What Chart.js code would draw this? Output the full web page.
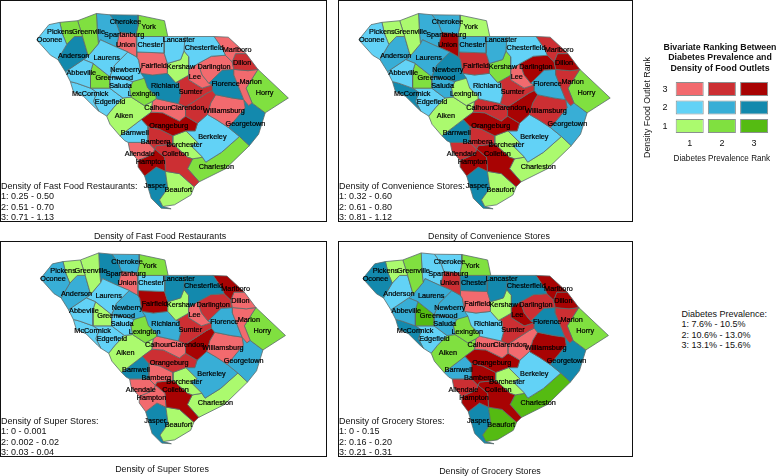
<!DOCTYPE html>
<html>
<head>
<meta charset="utf-8">
<script src="https://cdn.jsdelivr.net/npm/chart.js@4"></script>
<style>
  html, body { margin: 0; padding: 0; background: #fff; }
  body { position: relative; width: 779px; height: 476px; overflow: hidden; font-family: "Liberation Sans", Arial, sans-serif; color: #111; }
  .panel { position: absolute; box-sizing: border-box; border: 1.5px solid #111; }
  .panel canvas { position: absolute; left: 0; top: 0; }
  .ranges { position: absolute; font-size: 9px; line-height: 10.4px; white-space: nowrap; }
  .caption { position: absolute; font-size: 8.9px; line-height: 10px; white-space: nowrap; transform: translateX(-50%); }
  .side { position: absolute; left: 681.5px; top: 308.8px; font-size: 9px; line-height: 10.4px; white-space: nowrap; }
  .legendTitle { position: absolute; left: 720px; top: 41.5px; transform: translateX(-50%); font-size: 8.8px; line-height: 10.6px; font-weight: bold; text-align: center; white-space: nowrap; }
  #legendChart { position: absolute; left: 636px; top: 55px; }
</style>
</head>
<body>
<canvas id="legendChart" width="143" height="115"></canvas>
<div class="legendTitle">Bivariate Ranking Between<br>Diabetes Prevalence and<br>Density of Food Outlets</div>
<div class="side">Diabetes Prevalence:<br>1: 7.6% - 10.5%<br>2: 10.6% - 13.0%<br>3: 13.1% - 15.6%</div>
<script>
// county order is shared by every array below
const countyNames = ["Oconee","Pickens","Greenville","Anderson","Abbeville","Laurens","Spartanburg","Cherokee","York","Union","Chester","Lancaster","Chesterfield","Marlboro","Dillon","Marion","Horry","Darlington","Florence","Lee","Kershaw","Fairfield","Newberry","Greenwood","Saluda","McCormick","Edgefield","Lexington","Richland","Sumter","Clarendon","Williamsburg","Georgetown","Calhoun","Orangeburg","Aiken","Barnwell","Bamberg","Allendale","Hampton","Colleton","Dorchester","Berkeley","Charleston","Beaufort","Jasper"];

// outlines, map units
const countyOutlines = [
  [[108,118],[145,72],[178,65],[186,100],[199,132],[172,178],[150,165]],
  [[178,65],[232,60],[247,108],[222,108],[199,132],[186,100]],
  [[232,60],[289,38],[292,100],[295,130],[264,167],[247,108]],
  [[199,132],[222,108],[247,108],[264,167],[250,178],[195,215],[172,178]],
  [[195,215],[250,178],[279,190],[271,215],[271,265],[229,250],[210,245]],
  [[295,130],[301,118],[349,140],[384,155],[344,195],[329,230],[279,190],[250,178],[264,167]],
  [[289,38],[330,42],[350,70],[359,95],[349,140],[301,118],[295,130],[292,100]],
  [[330,42],[415,43],[415,75],[409,100],[359,95],[350,70]],
  [[415,43],[495,60],[505,108],[495,108],[409,108],[409,100],[415,75]],
  [[359,95],[409,100],[411,155],[411,170],[384,155],[349,140]],
  [[409,108],[495,108],[494,158],[411,155]],
  [[505,108],[557,108],[554,152],[544,178],[504,190],[494,158],[495,108]],
  [[557,108],[645,108],[672,148],[679,165],[637,168],[597,190],[569,208],[569,170],[554,152]],
  [[645,108],[688,110],[742,160],[710,160],[700,185],[679,165],[672,148]],
  [[710,160],[742,160],[778,208],[748,212],[705,208],[700,185]],
  [[705,208],[748,212],[778,208],[742,265],[760,310],[750,318],[735,300],[705,225]],
  [[778,208],[870,295],[800,340],[760,310],[742,265]],
  [[597,190],[637,168],[679,165],[700,185],[705,208],[670,210],[639,240],[629,250],[609,225]],
  [[640,255],[629,250],[639,240],[670,210],[705,208],[705,225],[735,300],[700,295],[650,285],[640,272]],
  [[569,208],[597,190],[609,225],[629,250],[640,255],[609,265],[569,240]],
  [[504,190],[544,178],[554,152],[569,170],[569,208],[569,225],[529,248],[504,220]],
  [[411,155],[494,158],[504,190],[504,220],[459,225],[424,220],[417,180],[411,170]],
  [[344,195],[384,155],[411,170],[417,180],[424,220],[434,235],[399,245],[384,240],[329,230]],
  [[279,190],[329,230],[329,265],[271,265],[271,215]],
  [[329,230],[384,240],[399,245],[389,265],[394,292],[369,295],[329,265]],
  [[219,275],[210,245],[229,250],[271,265],[290,278],[280,305],[296,335],[285,325],[250,290]],
  [[271,265],[329,265],[369,295],[340,325],[320,350],[296,335],[280,305],[290,278]],
  [[420,232],[434,235],[444,265],[469,290],[470,297],[459,305],[434,318],[394,292],[389,265],[399,245]],
  [[424,220],[459,225],[504,220],[529,248],[539,250],[544,285],[537,312],[470,297],[469,290],[444,265],[420,232]],
  [[529,248],[569,225],[569,240],[609,265],[640,255],[640,272],[624,280],[559,322],[537,312],[544,285],[539,250]],
  [[559,322],[624,280],[640,272],[650,285],[635,310],[625,345],[595,372],[559,350]],
  [[650,285],[700,295],[735,300],[739,325],[689,385],[654,362],[625,345],[635,310]],
  [[735,300],[750,318],[760,310],[800,340],[780,405],[752,440],[722,412],[689,385],[739,325]],
  [[470,297],[537,312],[559,322],[559,350],[540,365],[490,340],[455,338],[459,305]],
  [[425,360],[455,338],[490,340],[540,365],[559,350],[595,372],[588,395],[560,395],[520,410],[480,390],[445,382]],
  [[394,292],[434,318],[459,305],[455,338],[425,360],[360,410],[330,375],[320,350],[340,325],[369,295]],
  [[360,410],[425,360],[445,382],[445,430],[385,430],[375,425]],
  [[445,382],[480,390],[520,410],[520,435],[470,440],[465,450],[445,430]],
  [[385,430],[445,430],[465,450],[460,465],[415,485],[390,455]],
  [[415,485],[460,465],[465,450],[495,475],[498,518],[470,505],[435,532],[415,505]],
  [[470,440],[520,435],[565,475],[580,480],[565,510],[600,550],[585,565],[540,525],[498,518],[495,475],[465,450]],
  [[520,410],[560,395],[595,430],[575,440],[610,475],[580,480],[565,475],[520,435]],
  [[560,395],[588,395],[595,372],[625,345],[654,362],[689,385],[722,412],[668,460],[620,490],[610,475],[575,440],[595,430]],
  [[722,412],[752,440],[680,510],[600,550],[565,510],[580,480],[610,475],[620,490],[668,460]],
  [[498,518],[540,525],[585,565],[575,590],[525,620],[490,625],[480,605],[505,570]],
  [[435,532],[470,505],[498,518],[505,570],[480,605],[490,625],[515,632],[485,630],[455,600]]
];

const labelAnchors = [[147,118],[178,94],[265,93],[220,166],[243,220],[320,172],[373,104],[377,65],[447,79],[377,133],[452,133],[538,118],[615,142],[715,149],[730,188],[756,247],[798,281],[645,200],[680,252],[587,231],[545,200],[463,198],[378,209],[343,233],[362,259],[270,282],[330,307],[432,284],[497,259],[574,277],[565,326],[675,335],[740,373],[475,326],[508,380],[372,350],[405,401],[468,428],[420,464],[453,491],[528,466],[555,439],[640,414],[652,504],[537,574],[465,562]];

// bivariate cell per county: tens = diabetes rank, units = outlet rank
const fastFoodCells = [12,21,21,32,12,12,22,32,21,13,12,12,12,13,23,13,21,13,32,13,11,13,12,21,12,12,12,21,32,23,23,13,32,13,33,11,12,23,13,33,23,11,12,21,11,32];
const convenienceCells = [12,11,11,22,12,22,22,22,11,33,22,22,12,23,33,23,21,33,22,13,21,23,32,21,22,32,12,11,12,23,33,23,22,23,33,11,32,23,23,33,33,11,12,11,11,32];
const superCells = [22,11,11,22,12,12,32,22,21,13,12,32,32,33,13,13,21,23,22,13,11,33,22,11,12,12,12,21,22,23,33,13,22,13,23,11,32,13,13,13,33,11,22,11,11,32];
const groceryCells = [32,11,21,12,22,22,12,12,21,23,32,32,32,33,33,23,21,23,32,33,11,13,22,31,22,32,12,21,12,23,13,33,32,13,33,21,22,33,23,33,33,11,12,31,31,32];

const fastFoodRanges = ["Density of Fast Food Restaurants:","1: 0.25 - 0.50","2: 0.51 - 0.70","3: 0.71 - 1.13"];
const convenienceRanges = ["Density of Convenience Stores:","1: 0.32 - 0.60","2: 0.61 - 0.80","3: 0.81 - 1.12"];
const superRanges = ["Density of Super Stores:","1: 0 - 0.001","2: 0.002 - 0.02","3: 0.03 - 0.04"];
const groceryRanges = ["Density of Grocery Stores:","1: 0 - 0.15","2: 0.16 - 0.20","3: 0.21 - 0.31"];

const rankTicks = ["1","2","3"];

const cellColors = {
  11: "#abfa6e", 21: "#80e040", 31: "#55bb12",
  12: "#62d2f6", 22: "#38aed6", 32: "#1389ad",
  13: "#f26a6e", 23: "#cc2f33", 33: "#a80303"
};

const fontFamily = '"Liberation Sans", Arial, sans-serif';

const panels = [
  { id: "p1", left: 0, top: 0, w: 327, h: 222, x: [0, 981], y: [0, 666], cells: fastFoodCells, ranges: fastFoodRanges, rangeLeft: 1, rangeTop: 181, title: "Density of Fast Food Restaurants", titleX: 160, titleY: 231 },
  { id: "p2", left: 338, top: 0, w: 295, h: 222, x: [48, 933], y: [0, 666], cells: convenienceCells, ranges: convenienceRanges, rangeLeft: 339, rangeTop: 181, title: "Density of Convenience Stores", titleX: 489, titleY: 231 },
  { id: "p3", left: 0, top: 241, w: 327, h: 216, x: [-15, 993], y: [4, 667], cells: superCells, ranges: superRanges, rangeLeft: 1, rangeTop: 416, title: "Density of Super Stores", titleX: 162, titleY: 464 },
  { id: "p4", left: 338, top: 241, w: 295, h: 216, x: [34, 940], y: [4, 667], cells: groceryCells, ranges: groceryRanges, rangeLeft: 339, rangeTop: 416, title: "Density of Grocery Stores", titleX: 490, titleY: 466 }
];

// Chart.js line fill does not close a shape cleanly, so fill under the line here
const countyFill = {
  id: "countyFill",
  beforeDatasetDraw(chart, args) {
    const ctx = chart.ctx;
    const pts = chart.getDatasetMeta(args.index).data;
    ctx.save();
    ctx.beginPath();
    pts.forEach((pt, i) => (i ? ctx.lineTo(pt.x, pt.y) : ctx.moveTo(pt.x, pt.y)));
    ctx.closePath();
    ctx.fillStyle = chart.data.datasets[args.index].backgroundColor;
    ctx.fill();
    ctx.restore();
  }
};

const countyLabels = {
  id: "countyLabels",
  afterDatasetsDraw(chart) {
    const ctx = chart.ctx;
    ctx.save();
    ctx.font = "7.3px " + fontFamily;
    ctx.textAlign = "center";
    ctx.textBaseline = "middle";
    ctx.fillStyle = "#000";
    ctx.strokeStyle = "#000";
    ctx.lineWidth = 0.2;
    countyNames.forEach((name, i) => {
      const x = chart.scales.x.getPixelForValue(labelAnchors[i][0]);
      const y = chart.scales.y.getPixelForValue(labelAnchors[i][1]);
      ctx.fillText(name, x, y);
      ctx.strokeText(name, x, y);
    });
    ctx.restore();
  }
};

function addMapPanel(p) {
  const box = document.createElement("div");
  box.className = "panel";
  box.style.cssText = `left:${p.left}px;top:${p.top}px;width:${p.w}px;height:${p.h}px`;
  const canvas = document.createElement("canvas");
  canvas.width = p.w - 3;
  canvas.height = p.h - 3;
  box.appendChild(canvas);
  document.body.appendChild(box);

  new Chart(canvas.getContext("2d"), {
    type: "scatter",
    data: {
      datasets: countyOutlines.map((outline, i) => ({
        label: countyNames[i],
        data: outline.concat([outline[0]]).map(v => ({ x: v[0], y: v[1] })),
        showLine: true,
        fill: false,
        tension: 0,
        pointRadius: 0,
        borderWidth: 0.8,
        borderColor: "#5b6b6b",
        backgroundColor: cellColors[p.cells[i]]
      }))
    },
    options: {
      responsive: false,
      animation: false,
      events: [],
      layout: { padding: 0 },
      plugins: { legend: { display: false }, tooltip: { enabled: false } },
      scales: {
        x: { type: "linear", display: false, min: p.x[0], max: p.x[1] },
        y: { type: "linear", display: false, reverse: true, min: p.y[0], max: p.y[1] }
      }
    },
    plugins: [countyFill, countyLabels]
  });

  const ranges = document.createElement("div");
  ranges.className = "ranges";
  ranges.style.cssText = `left:${p.rangeLeft}px;top:${p.rangeTop}px`;
  ranges.innerHTML = p.ranges.join("<br>");
  document.body.appendChild(ranges);

  const caption = document.createElement("div");
  caption.className = "caption";
  caption.style.cssText = `left:${p.titleX}px;top:${p.titleY}px`;
  caption.textContent = p.title;
  document.body.appendChild(caption);
}

panels.forEach(addMapPanel);

// legend grid: floating bars, one dataset per outlet rank
new Chart(document.getElementById("legendChart").getContext("2d"), {
  type: "bar",
  data: {
    labels: rankTicks,
    datasets: [1, 2, 3].map(r => ({
      label: String(r),
      data: rankTicks.map(() => [r - 0.38, r + 0.38]),
      backgroundColor: [cellColors[10 + r], cellColors[20 + r], cellColors[30 + r]],
      borderColor: "#8a9090",
      borderWidth: 1,
      borderSkipped: false,
      barPercentage: 1,
      categoryPercentage: 0.87
    }))
  },
  options: {
    responsive: false,
    animation: false,
    events: [],
    layout: { padding: { left: 0, right: 8.8, top: 24.8, bottom: 0 } },
    plugins: { legend: { display: false }, tooltip: { enabled: false } },
    scales: {
      x: {
        stacked: true,
        afterFit(s) { s.height = 34.7; },
        grid: { display: false, drawTicks: false },
        border: { display: false },
        ticks: { color: "#111", font: { family: fontFamily, size: 9 }, padding: 3 },
        title: { display: true, text: "Diabetes Prevalence Rank", color: "#111", font: { family: fontFamily, size: 8.8 }, padding: { top: 2, bottom: 6 } }
      },
      y: {
        min: 0.5,
        max: 3.5,
        afterFit(s) { s.width = 37.6; },
        afterBuildTicks(s) { s.ticks = [{ value: 1 }, { value: 2 }, { value: 3 }]; },
        grid: { display: false, drawTicks: false },
        border: { display: false },
        ticks: { color: "#111", font: { family: fontFamily, size: 9 }, padding: 6 },
        title: { display: true, text: "Density Food Outlet Rank", color: "#111", font: { family: fontFamily, size: 8.8 }, padding: { top: 6, bottom: 0 } }
      }
    }
  }
});
</script>
</body>
</html>
